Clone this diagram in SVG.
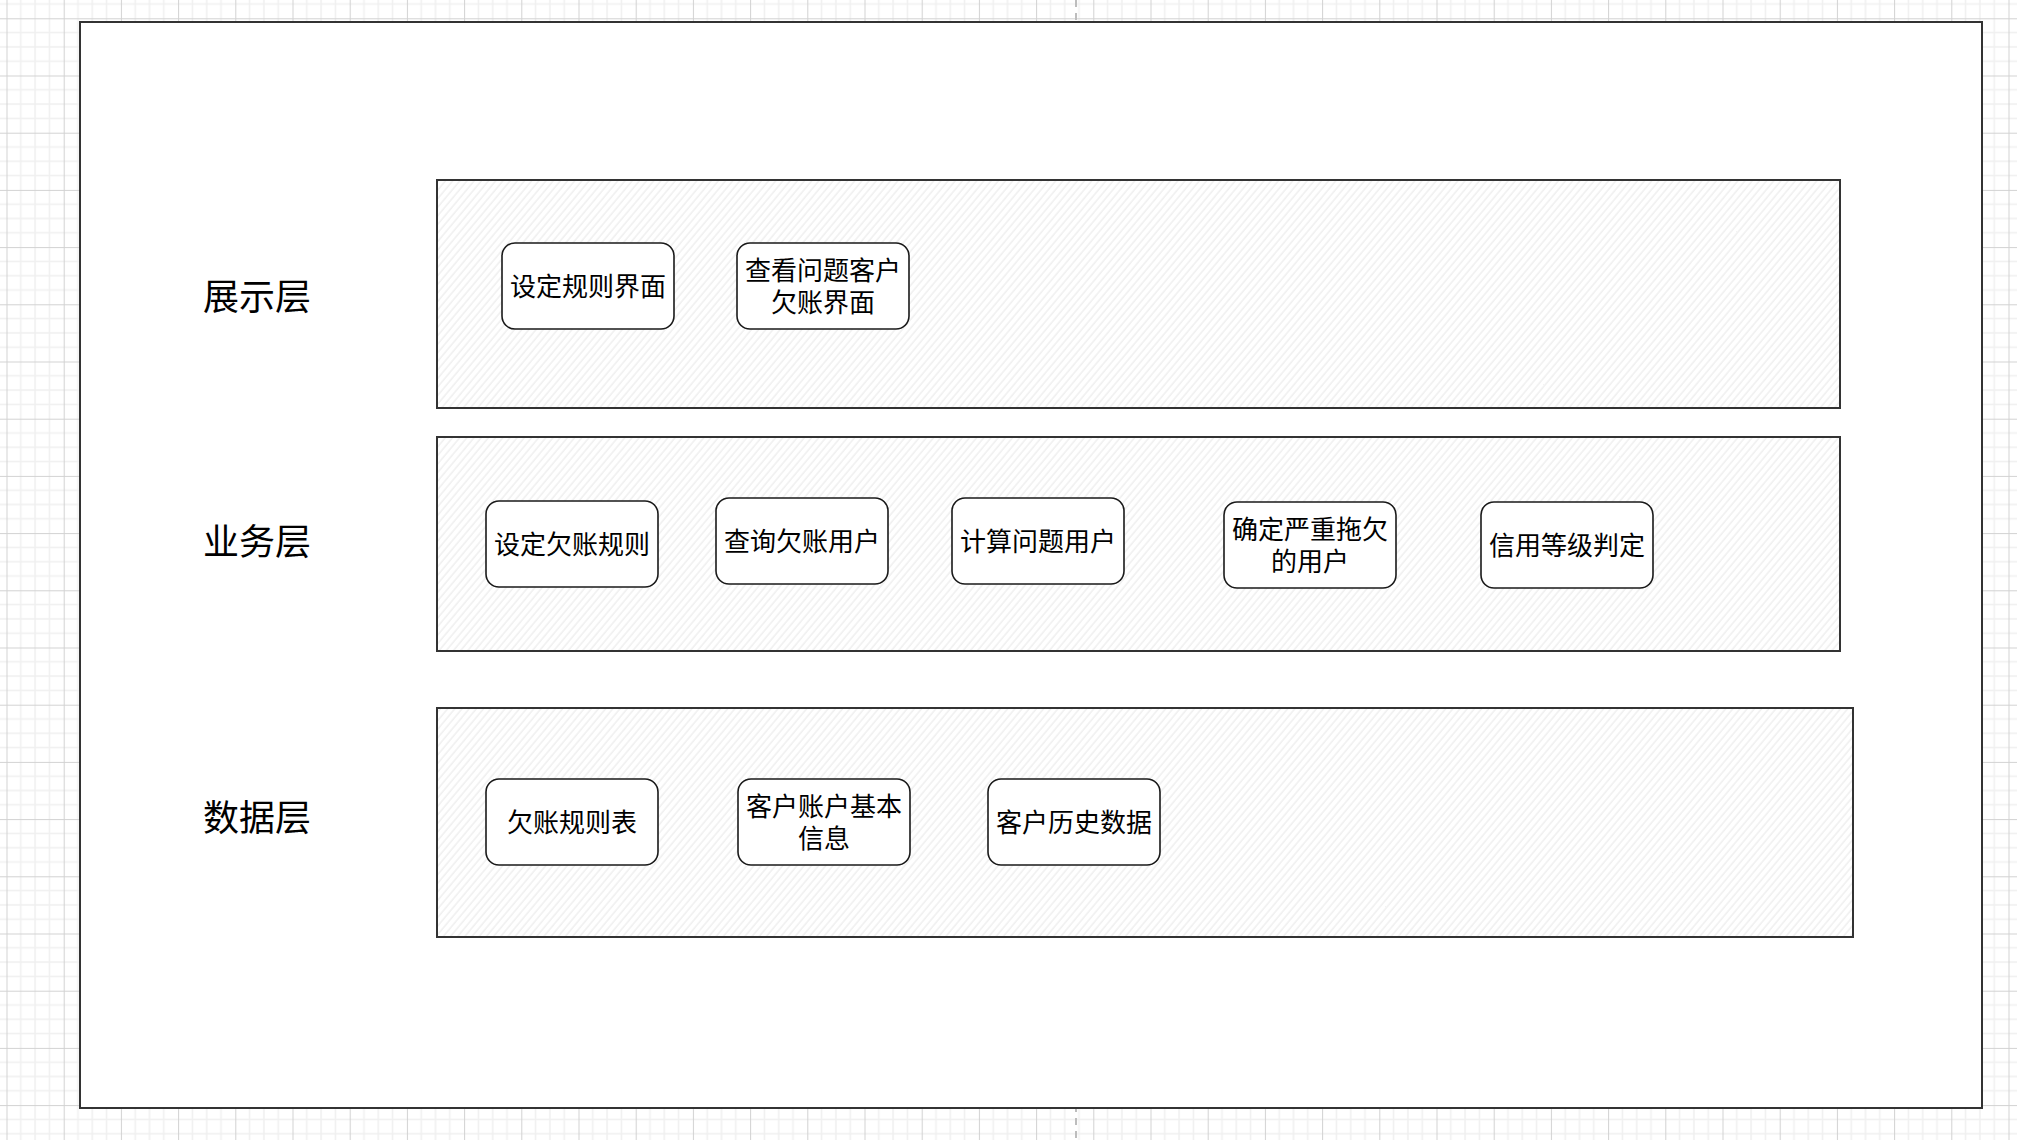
<svg xmlns="http://www.w3.org/2000/svg" width="2017" height="1140" viewBox="0 0 2017 1140">
  <defs>
    <pattern id="grid" patternUnits="userSpaceOnUse" x="6.5" y="18.3" width="57.2" height="57.2">
      <rect width="57.2" height="57.2" fill="#ffffff"/>
      <g stroke="#f0f0f0" stroke-width="1.5">
        <line x1="14.3" y1="0" x2="14.3" y2="57.2"/>
        <line x1="28.6" y1="0" x2="28.6" y2="57.2"/>
        <line x1="42.9" y1="0" x2="42.9" y2="57.2"/>
        <line x1="0" y1="14.3" x2="57.2" y2="14.3"/>
        <line x1="0" y1="28.6" x2="57.2" y2="28.6"/>
        <line x1="0" y1="42.9" x2="57.2" y2="42.9"/>
      </g>
      <g stroke="#d2d2d2" stroke-width="1">
        <line x1="0.5" y1="0" x2="0.5" y2="57.2"/>
        <line x1="0" y1="0.5" x2="57.2" y2="0.5"/>
      </g>
    </pattern>
    <pattern id="hatch" patternUnits="userSpaceOnUse" width="5.5" height="20" patternTransform="rotate(40)">
      <rect width="5.5" height="20" fill="#ffffff"/>
      <line x1="1" y1="0" x2="1" y2="20" stroke="#e8e8e8" stroke-width="1"/>
    </pattern>
  </defs>
  <style>
    .layer { fill: url(#hatch); stroke: #333333; stroke-width: 2; }
    .node rect { fill: #ffffff; stroke: #1a1a1a; stroke-width: 1.6; }
    .node text { font-family: "Noto Sans CJK SC", "Noto Sans", sans-serif; font-size: 26px; fill: #000000; text-anchor: middle; }
    .label { font-family: "Noto Sans CJK SC", "Noto Sans", sans-serif; font-size: 36px; fill: #000000; text-anchor: middle; }
  </style>

  <rect x="0" y="0" width="2017" height="1140" fill="url(#grid)"/>
  <line x1="1076" y1="0" x2="1076" y2="1140" stroke="#bdbdbd" stroke-width="2" stroke-dasharray="7 6"/>

  <g id="page">
    <rect x="80" y="22" width="1902" height="1086" fill="#ffffff" stroke="#333333" stroke-width="2"/>
  </g>

  <g id="layer-presentation">
    <rect class="layer" x="437" y="180" width="1403" height="228"/>
    <text class="label" x="257" y="310">展示层</text>
  </g>
  <g id="layer-business">
    <rect class="layer" x="437" y="437" width="1403" height="214"/>
    <text class="label" x="257" y="555">业务层</text>
  </g>
  <g id="layer-data">
    <rect class="layer" x="437" y="708" width="1416" height="229"/>
    <text class="label" x="257" y="831">数据层</text>
  </g>

  <g id="node-set-rule-ui" class="node">
    <rect x="502" y="243" width="172" height="86" rx="13"/>
    <text x="588" y="296">设定规则界面</text>
  </g>
  <g id="node-view-debt-ui" class="node">
    <rect x="737" y="243" width="172" height="86" rx="13"/>
    <text x="823" y="280">查看问题客户<tspan x="823" dy="32">欠账界面</tspan></text>
  </g>

  <g id="node-set-debt-rule" class="node">
    <rect x="486" y="501" width="172" height="86" rx="13"/>
    <text x="572" y="554">设定欠账规则</text>
  </g>
  <g id="node-query-debtors" class="node">
    <rect x="716" y="498" width="172" height="86" rx="13"/>
    <text x="802" y="551">查询欠账用户</text>
  </g>
  <g id="node-calc-problem-users" class="node">
    <rect x="952" y="498" width="172" height="86" rx="13"/>
    <text x="1038" y="551">计算问题用户</text>
  </g>
  <g id="node-serious-debtors" class="node">
    <rect x="1224" y="502" width="172" height="86" rx="13"/>
    <text x="1310" y="539">确定严重拖欠<tspan x="1310" dy="32">的用户</tspan></text>
  </g>
  <g id="node-credit-grade" class="node">
    <rect x="1481" y="502" width="172" height="86" rx="13"/>
    <text x="1567" y="555">信用等级判定</text>
  </g>

  <g id="node-debt-rule-table" class="node">
    <rect x="486" y="779" width="172" height="86" rx="13"/>
    <text x="572" y="832">欠账规则表</text>
  </g>
  <g id="node-account-info" class="node">
    <rect x="738" y="779" width="172" height="86" rx="13"/>
    <text x="824" y="816">客户账户基本<tspan x="824" dy="32">信息</tspan></text>
  </g>
  <g id="node-history" class="node">
    <rect x="988" y="779" width="172" height="86" rx="13"/>
    <text x="1074" y="832">客户历史数据</text>
  </g>

  <g id="connectors"/>
</svg>
